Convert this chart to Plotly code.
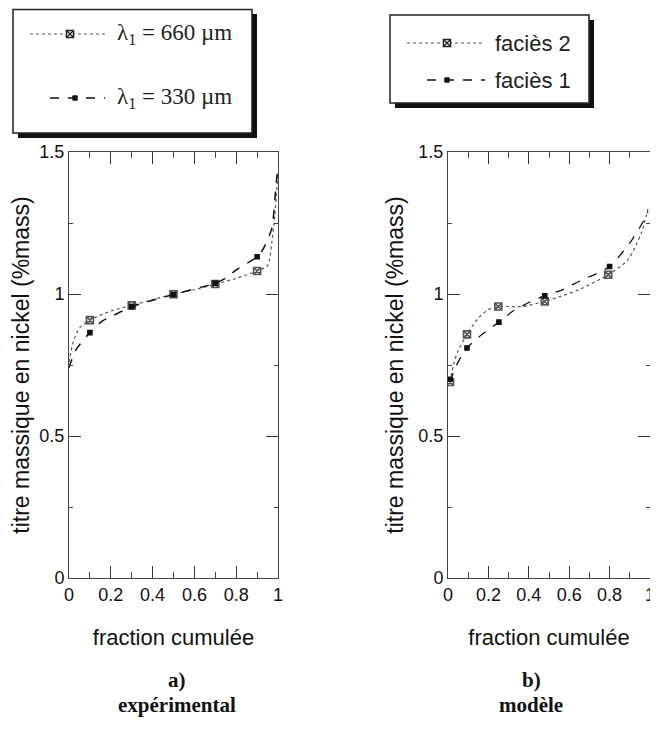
import plotly.graph_objects as go

# ---------------- data ----------------
# panel a) experimental
a660_x = [0.0, 0.02, 0.05, 0.1, 0.2, 0.3, 0.4, 0.5, 0.6, 0.7, 0.8, 0.9, 0.95, 0.97, 0.985, 1.0]
a660_y = [0.76, 0.83, 0.88, 0.908, 0.94, 0.96, 0.98, 0.999, 1.015, 1.035, 1.055, 1.081, 1.10, 1.18, 1.28, 1.43]
a660_mx = [0.1, 0.3, 0.5, 0.7, 0.9]
a660_my = [0.908, 0.96, 0.999, 1.035, 1.081]

a330_x = [0.0, 0.03, 0.1, 0.16, 0.2, 0.3, 0.4, 0.5, 0.6, 0.7, 0.75, 0.8, 0.9, 0.93, 0.97, 0.99, 1.0]
a330_y = [0.74, 0.80, 0.864, 0.905, 0.92, 0.955, 0.978, 0.998, 1.018, 1.038, 1.056, 1.085, 1.131, 1.16, 1.23, 1.38, 1.45]
a330_mx = [0.1, 0.3, 0.5, 0.7, 0.9]
a330_my = [0.864, 0.955, 0.998, 1.038, 1.131]

# panel b) modele
b2_x = [0.01, 0.03, 0.05, 0.094, 0.15, 0.2, 0.249, 0.3, 0.37, 0.479, 0.55, 0.647, 0.793, 0.89, 0.957, 0.99]
b2_y = [0.69, 0.76, 0.80, 0.858, 0.915, 0.945, 0.956, 0.956, 0.956, 0.974, 0.99, 1.015, 1.068, 1.12, 1.215, 1.30]
b2_mx = [0.01, 0.094, 0.249, 0.479, 0.793]
b2_my = [0.69, 0.858, 0.956, 0.974, 1.068]

b1_x = [0.01, 0.03, 0.05, 0.094, 0.157, 0.252, 0.32, 0.4, 0.479, 0.56, 0.65, 0.8, 0.91, 0.97, 0.99]
b1_y = [0.69, 0.73, 0.76, 0.81, 0.851, 0.901, 0.939, 0.97, 0.994, 1.013, 1.045, 1.097, 1.19, 1.26, 1.29]
b1_mx = [0.01, 0.094, 0.252, 0.479, 0.80]
b1_my = [0.70, 0.81, 0.901, 0.994, 1.097]

x_title = "fraction cumulée"
y_title = "titre massique en nickel (%mass)"
legend_a = ["λ<sub>1</sub> = 660 µm", "λ<sub>1</sub> = 330 µm"]
legend_b = ["faciès 2", "faciès 1"]
sub_a = ["a)", "expérimental"]
sub_b = ["b)", "modèle"]

# ---------------- figure ----------------
# page body has an 8 px default margin; the figure is sized to fit the window
OFF = 8
W, H = 650, 732


def px(x):
    return (x - OFF) / W


def py(y):
    return 1 - (y - OFF) / H


DOT_COL = "#555555"
DASH_COL = "#111111"

fig = go.Figure()


def curve(x, y, mx, my, xa, ya, dash, col, width, sym, msize, name):
    fig.add_trace(go.Scatter(x=x, y=y, mode="lines", xaxis=xa, yaxis=ya,
                             line=dict(color=col, dash=dash, width=width, shape="spline", smoothing=0.7),
                             name=name, showlegend=False, hoverinfo="skip"))
    fig.add_trace(go.Scatter(x=mx, y=my, mode="markers", xaxis=xa, yaxis=ya,
                             marker=dict(symbol=sym, size=msize, color=col,
                                         line=dict(color=col, width=1.6)),
                             name=name, showlegend=False))


curve(a660_x, a660_y, a660_mx, a660_my, "x", "y", "dot", DOT_COL, 1.2, "square-x-open", 7, "λ1 = 660 µm")
curve(a330_x, a330_y, a330_mx, a330_my, "x", "y", "dash", DASH_COL, 1.5, "square", 4, "λ1 = 330 µm")
curve(b2_x, b2_y, b2_mx, b2_my, "x2", "y2", "dot", DOT_COL, 1.2, "square-x-open", 7, "faciès 2")
curve(b1_x, b1_y, b1_mx, b1_my, "x2", "y2", "dash", DASH_COL, 1.3, "square", 4, "faciès 1")

tickfont = dict(family="Liberation Sans, Arial, sans-serif", size=18, color="#111")
titlefont = dict(family="Liberation Sans, Arial, sans-serif", size=22, color="#111")

xcommon = dict(range=[0, 1], dtick=0.2, tick0=0, ticks="inside", ticklen=12, tickwidth=1,
               tickcolor="#333", showline=True, linecolor="#444", linewidth=1, mirror="ticks",
               showgrid=False, zeroline=False, tickfont=tickfont, automargin=False,
               minor=dict(dtick=0.1, ticks="inside", ticklen=6, tickcolor="#444", showgrid=False),
               title=dict(text=x_title, font=titlefont, standoff=26))
ycommon = dict(range=[0, 1.5], dtick=0.5, tick0=0, ticks="inside", ticklen=12, tickwidth=1,
               tickcolor="#333", showline=True, linecolor="#444", linewidth=1, mirror="ticks",
               showgrid=False, zeroline=False, tickfont=tickfont, automargin=False,
               minor=dict(dtick=0.25, ticks="inside", ticklen=4, tickcolor="#444", showgrid=False),
               title=dict(text=y_title, font=dict(family="Liberation Sans, Arial, sans-serif", size=23, color="#111"),
                          standoff=8))

fig.update_layout(
    width=W, height=H, margin=dict(l=0, r=0, t=0, b=0, pad=0, autoexpand=False),
    paper_bgcolor="white", plot_bgcolor="white", showlegend=False,
    xaxis=dict(domain=[px(69), px(278)], anchor="y", **xcommon),
    yaxis=dict(domain=[py(578), py(152)], anchor="x", **ycommon),
    xaxis2=dict(domain=[px(448), px(650)], anchor="y2", **xcommon),
    yaxis2=dict(domain=[py(578), py(152)], anchor="x2", **ycommon),
)

shapes = []
annots = []


def rect(x0, y0, x1, y1, fill, lc, lw):
    shapes.append(dict(type="rect", xref="paper", yref="paper",
                       x0=px(x0), x1=px(x1), y0=py(y1), y1=py(y0),
                       fillcolor=fill, line=dict(color=lc, width=lw), layer="above"))


def hline(x0, x1, y, dash, col, w):
    shapes.append(dict(type="line", xref="paper", yref="paper", x0=px(x0), x1=px(x1),
                       y0=py(y), y1=py(y), line=dict(color=col, dash=dash, width=w), layer="above"))


def xbox(cx, cy, s=3.5):
    rect(cx - s, cy - s, cx + s, cy + s, "white", "#222", 1.5)
    shapes.append(dict(type="path", xref="paper", yref="paper", layer="above",
                       path=f"M{px(cx - s)},{py(cy - s)} L{px(cx + s)},{py(cy + s)} "
                            f"M{px(cx - s)},{py(cy + s)} L{px(cx + s)},{py(cy - s)}",
                       line=dict(color="#222", width=1.3)))


def fbox(cx, cy, s=2.2):
    rect(cx - s, cy - s, cx + s, cy + s, "#111", "#111", 1)


serif = "Liberation Serif, Times New Roman, serif"
sans = "Liberation Sans, Arial, sans-serif"

# legend box a
rect(18, 14, 257, 138, "#111", "#111", 0)
rect(13, 9.5, 252, 133, "white", "#222", 1.5)
hline(30, 105, 34, "dot", DOT_COL, 1.2)
xbox(70, 34)
hline(50, 105, 98, "dash", DASH_COL, 1.5)
fbox(75, 98)
annots.append(dict(x=px(115), y=py(34), xref="paper", yref="paper", xanchor="left", yanchor="middle",
                   text=legend_a[0], showarrow=False, font=dict(family=serif, size=23, color="#222")))
annots.append(dict(x=px(115), y=py(98), xref="paper", yref="paper", xanchor="left", yanchor="middle",
                   text=legend_a[1], showarrow=False, font=dict(family=serif, size=23, color="#222")))

# legend box b
rect(395, 20, 594, 108, "#111", "#111", 0)
rect(390, 15, 589, 103, "white", "#222", 1.5)
hline(407, 485, 43, "dot", DOT_COL, 1.2)
xbox(447, 43)
hline(427, 485, 80, "dash", DASH_COL, 1.3)
fbox(447, 80)
annots.append(dict(x=px(493), y=py(43), xref="paper", yref="paper", xanchor="left", yanchor="middle",
                   text=legend_b[0], showarrow=False, font=dict(family=sans, size=22, color="#222")))
annots.append(dict(x=px(493), y=py(80), xref="paper", yref="paper", xanchor="left", yanchor="middle",
                   text=legend_b[1], showarrow=False, font=dict(family=sans, size=22, color="#222")))

# panel captions
for (cx, lines) in [(177, sub_a), (531, sub_b)]:
    for t, cy in zip(lines, [680, 705]):
        annots.append(dict(x=px(cx), y=py(cy), xref="paper", yref="paper", xanchor="center",
                           yanchor="middle", text=f"<b>{t}</b>", showarrow=False,
                           font=dict(family=serif, size=21, color="#111")))

fig.update_layout(shapes=shapes, annotations=annots)
fig.write_html("out.html")
